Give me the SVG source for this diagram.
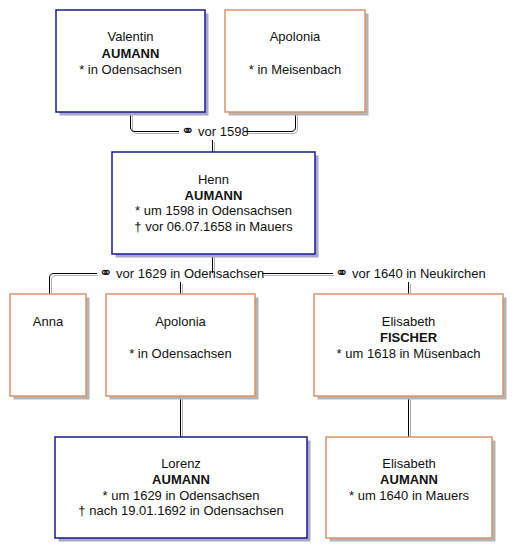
<svg xmlns="http://www.w3.org/2000/svg" width="524" height="558" viewBox="0 0 524 558">
<style>
.bg{fill:#ffffff}
.sh-m{fill:#a8a8cc}
.sh-f{fill:#b4b4b4}
.m{fill:#ffffff;stroke:#1a1a8c;stroke-width:1.5}
.f{fill:#ffffff;stroke:#e0906a;stroke-width:1.5}
text{font-family:"Liberation Sans",Arial,sans-serif;font-size:13px;fill:#111;text-anchor:middle}
.b{font-weight:bold}
.lbl{text-anchor:start}
.sym{font-family:"DejaVu Sans",sans-serif;font-size:16px;font-weight:normal}
.ln{fill:none;stroke:#000;stroke-width:1}
.lg{fill:none;stroke:#b0b0b0;stroke-width:1}
</style>
<rect class="bg" x="0" y="0" width="524" height="558"/>
<g id="connectors">
  <g class="lg" transform="translate(2,2)">
    <path d="M130.5,110 V127 Q130.5,131.5 135,131.5 H177"/>
    <path d="M247,131.5 H291 Q295.5,131.5 295.5,127 V110"/>
    <path d="M212.5,140 V150"/>
    <path d="M212.5,254 V271"/>
    <path d="M49.5,292 V278 Q49.5,273.5 54,273.5 H96"/>
    <path d="M262,273.5 H332"/>
    <path d="M180.5,282 V292"/>
    <path d="M408.5,282 V292"/>
    <path d="M180.5,396 V435"/>
    <path d="M408.5,396 V435"/>
  </g>
  <g class="ln">
    <path d="M130.5,112 V127 Q130.5,131.5 135,131.5 H179"/>
    <path d="M247,131.5 H291 Q295.5,131.5 295.5,127 V112"/>
    <path d="M212.5,140 V152"/>
    <path d="M212.5,254 V273"/>
    <path d="M49.5,294 V278 Q49.5,273.5 54,273.5 H97"/>
    <path d="M262,273.5 H333"/>
    <path d="M180.5,282 V294"/>
    <path d="M408.5,282 V294"/>
    <path d="M180.5,396 V437"/>
    <path d="M408.5,396 V437"/>
  </g>
  <text class="lbl" x="181" y="135.5"><tspan class="sym">⚭</tspan> vor 1598</text>
  <text class="lbl" x="99" y="277.5"><tspan class="sym">⚭</tspan> vor 1629 in Odensachsen</text>
  <text class="lbl" x="335" y="277.5"><tspan class="sym">⚭</tspan> vor 1640 in Neukirchen</text>
</g>
<g id="valentin">
  <rect class="sh-m" x="59.5" y="13.5" width="149" height="102"/>
  <rect class="m" x="56" y="10" width="149" height="102"/>
  <text x="130.5" y="41">Valentin</text>
  <text class="b" x="130.5" y="57.5">AUMANN</text>
  <text x="130.5" y="74">* in Odensachsen</text>
</g>
<g id="apolonia1">
  <rect class="sh-f" x="228.5" y="13.5" width="140" height="102"/>
  <rect class="f" x="225" y="10" width="140" height="102"/>
  <text x="295" y="41">Apolonia</text>
  <text x="295" y="74">* in Meisenbach</text>
</g>
<g id="henn">
  <rect class="sh-m" x="115.5" y="155.5" width="203" height="102"/>
  <rect class="m" x="112" y="152" width="203" height="102"/>
  <text x="213.5" y="183.5">Henn</text>
  <text class="b" x="213.5" y="199.5">AUMANN</text>
  <text x="213.5" y="215">* um 1598 in Odensachsen</text>
  <text x="213.5" y="231">† vor 06.07.1658 in Mauers</text>
</g>
<g id="anna">
  <rect class="sh-f" x="13.5" y="297.5" width="76" height="102"/>
  <rect class="f" x="10" y="294" width="76" height="102"/>
  <text x="48" y="326">Anna</text>
</g>
<g id="apolonia2">
  <rect class="sh-f" x="109.5" y="297.5" width="149" height="102"/>
  <rect class="f" x="106" y="294" width="149" height="102"/>
  <text x="180.5" y="326">Apolonia</text>
  <text x="180.5" y="358">* in Odensachsen</text>
</g>
<g id="elisabeth-fischer">
  <rect class="sh-f" x="317.5" y="297.5" width="189" height="102"/>
  <rect class="f" x="314" y="294" width="189" height="102"/>
  <text x="408.5" y="326">Elisabeth</text>
  <text class="b" x="408.5" y="342">FISCHER</text>
  <text x="408.5" y="358">* um 1618 in Müsenbach</text>
</g>
<g id="lorenz">
  <rect class="sh-m" x="58.5" y="440.5" width="252" height="101"/>
  <rect class="m" x="55" y="437" width="252" height="101"/>
  <text x="181" y="467.5">Lorenz</text>
  <text class="b" x="181" y="483.5">AUMANN</text>
  <text x="181" y="499.5">* um 1629 in Odensachsen</text>
  <text x="181" y="515">† nach 19.01.1692 in Odensachsen</text>
</g>
<g id="elisabeth-aumann">
  <rect class="sh-f" x="329.5" y="440.5" width="166" height="101"/>
  <rect class="f" x="326" y="437" width="166" height="101"/>
  <text x="409" y="467.5">Elisabeth</text>
  <text class="b" x="409" y="483.5">AUMANN</text>
  <text x="409" y="499.5">* um 1640 in Mauers</text>
</g>
</svg>
